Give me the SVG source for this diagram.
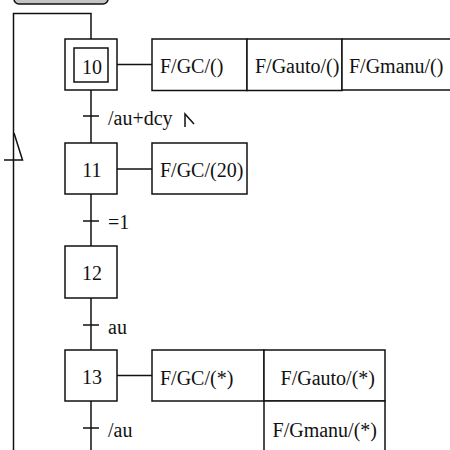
<svg xmlns="http://www.w3.org/2000/svg" width="450" height="450" viewBox="0 0 450 450">
<style>
.ln{fill:none;stroke:#111;stroke-width:1.5}
.bx{fill:#fff;stroke:#111;stroke-width:1.5}
text{font-family:'Liberation Serif','Times New Roman','DejaVu Serif',serif;font-size:20px;fill:#111}
.m{text-anchor:middle}
</style>
<rect id="top" x="14" y="-12" width="94" height="16" rx="5" fill="#c4c4c4" stroke="#111" stroke-width="1.5"/>
<g id="connectors" class="ln">
<path d="M13.5,450 V13.5 H91 V39"/>
<path d="M91,90 V143 M91,194 V246 M91,298 V350 M91,401 V450"/>
<path d="M83,116 H99 M83,221 H99 M83,325 H99 M83,428 H99"/>
<path d="M4,160 H22.5 L14,133"/>
<path d="M117,64.5 H152 M117,169 H152 M117,375.5 H152"/>
<path d="M185,127 V114 L194,124"/>
</g>
<g id="step10">
<rect class="bx" x="65" y="39" width="52" height="51"/>
<rect class="bx" x="74" y="48" width="34" height="34"/>
<text class="m" x="92" y="74">10</text>
</g>
<g id="actions10">
<rect class="bx" x="152" y="39" width="95" height="51.5"/>
<rect class="bx" x="247" y="39" width="95" height="51.5"/>
<rect class="bx" x="342" y="39" width="115" height="51"/>
<text x="160" y="73">F/GC/()</text>
<text x="255" y="73">F/Gauto/()</text>
<text x="349" y="73">F/Gmanu/()</text>
</g>
<g id="t1"><text x="108" y="125">/au+dcy</text></g>
<g id="step11">
<rect class="bx" x="65" y="143" width="52" height="51"/>
<text class="m" x="92" y="177">11</text>
</g>
<g id="actions11">
<rect class="bx" x="152" y="143" width="95" height="51"/>
<text x="160" y="177">F/GC/(20)</text>
</g>
<g id="t2"><text x="108" y="229">=1</text></g>
<g id="step12">
<rect class="bx" x="65" y="246" width="52" height="52"/>
<text class="m" x="92" y="280">12</text>
</g>
<g id="t3"><text x="108" y="334">au</text></g>
<g id="step13">
<rect class="bx" x="65" y="350" width="52" height="51"/>
<text class="m" x="92" y="384">13</text>
</g>
<g id="actions13">
<rect class="bx" x="152" y="350" width="112" height="51"/>
<rect class="bx" x="264" y="350" width="121" height="51"/>
<rect class="bx" x="264" y="401" width="121" height="60"/>
<text x="160" y="385">F/GC/(*)</text>
<text x="375" y="385" text-anchor="end">F/Gauto/(*)</text>
<text x="377" y="437" text-anchor="end">F/Gmanu/(*)</text>
</g>
<g id="t4"><text x="108" y="437">/au</text></g>
</svg>
